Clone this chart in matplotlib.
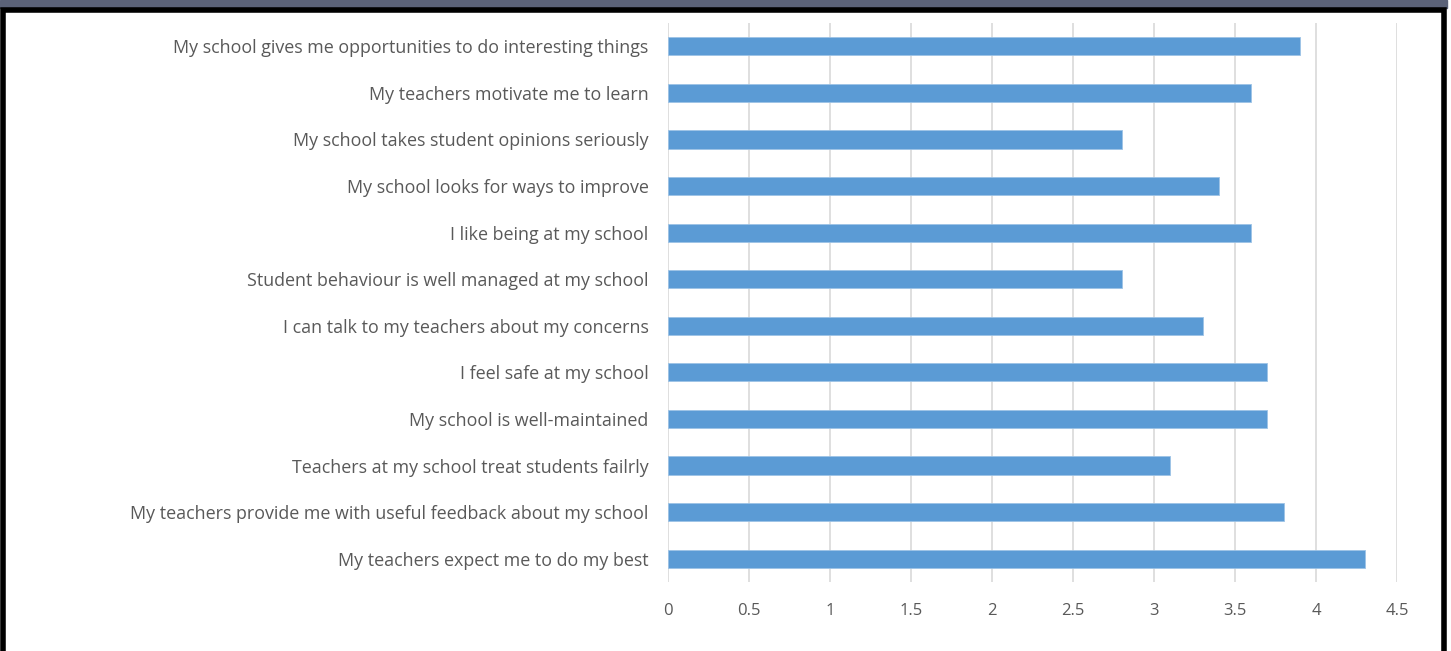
import matplotlib.pyplot as plt
from matplotlib.patches import Rectangle

# survey statements, top to bottom as shown
statements = [
    'My school gives me opportunities to do interesting things',
    'My teachers motivate me to learn',
    'My school takes student opinions seriously',
    'My school looks for ways to improve',
    'I like being at my school',
    'Student behaviour is well managed at my school',
    'I can talk to my teachers about my concerns',
    'I feel safe at my school',
    'My school is well-maintained',
    'Teachers at my school treat students failrly',
    'My teachers provide me with useful feedback about my school',
    'My teachers expect me to do my best',
]
scores = [3.9, 3.6, 2.8, 3.4, 3.6, 2.8, 3.3, 3.7, 3.7, 3.1, 3.8, 4.3]
xticks = [0, 0.5, 1, 1.5, 2, 2.5, 3, 3.5, 4, 4.5]
xtick_labels = ['0', '0.5', '1', '1.5', '2', '2.5', '3', '3.5', '4', '4.5']

plt.rcParams['font.family'] = ['Open Sans', 'DejaVu Sans']
text_color = '#595959'

fig = plt.figure(figsize=(14.51, 6.51), dpi=100)
ax = fig.add_axes([0.4604, 0.106, 0.5024, 0.8587])

ypos = list(range(len(statements)))[::-1]
ax.barh(ypos, scores, height=0.39, color='#5B9BD5', edgecolor='#9DC3E6', linewidth=0.6, zorder=3)

ax.set_xlim(0, 4.5)
ax.set_ylim(-0.5, len(statements) - 0.5)
ax.set_yticks(ypos)
ax.set_yticklabels(statements, fontsize=12.9, color=text_color)
ax.set_xticks(xticks)
ax.set_xticklabels(xtick_labels, fontsize=12, color=text_color)
ax.tick_params(axis='both', length=0)
ax.tick_params(axis='y', pad=14)
ax.tick_params(axis='x', pad=15)
ax.grid(axis='x', color='#D9D9D9', linewidth=1.2, zorder=0)
for s in ax.spines.values():
    s.set_visible(False)

# window chrome: dark band on top and black frame
W, H = 1451, 651
fig.patches.append(Rectangle((0, 1 - 8 / H), 1447 / W, 8 / H, transform=fig.transFigure,
                             color='#5B6278', zorder=10))
fig.patches.append(Rectangle((2.5 / W, -0.05), 1441 / W, 1 - 10.5 / H + 0.05, transform=fig.transFigure,
                             fill=False, edgecolor='black', linewidth=4, zorder=10))

fig.savefig('out.png', dpi=100)
